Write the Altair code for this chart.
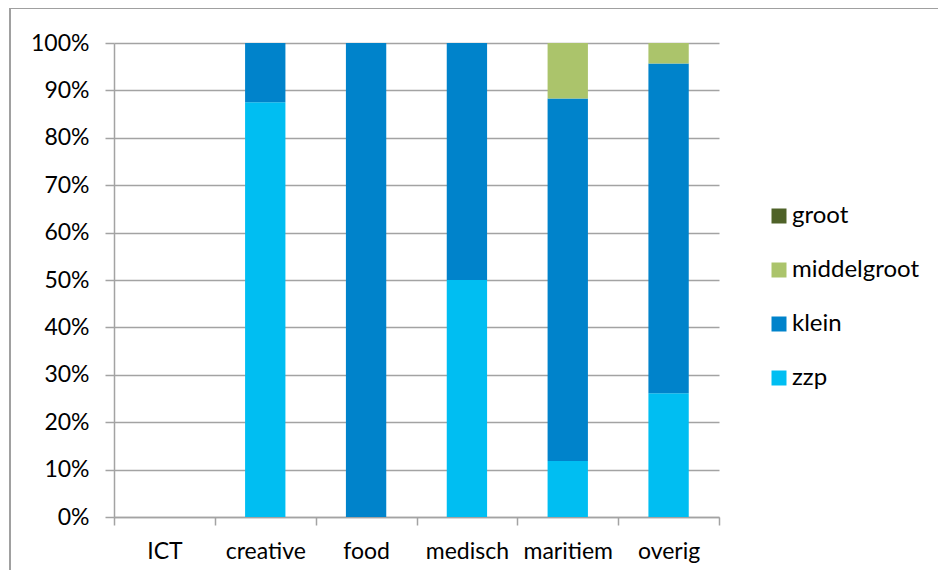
import altair as alt
import pandas as pd

categories = ["ICT", "creative", "food", "medisch", "maritiem", "overig"]
sizes = ["groot", "middelgroot", "klein", "zzp"]
colors = ["#4F6228", "#ABC46B", "#0083CB", "#00BEF2"]

zzp = [0.0, 0.875, 0.0, 0.50, 0.118, 0.261]
klein = [0.0, 0.125, 1.0, 0.50, 0.765, 0.696]
middelgroot = [0.0, 0.0, 0.0, 0.0, 0.117, 0.043]
groot = [0.0, 0.0, 0.0, 0.0, 0.0, 0.0]

series = {"zzp": zzp, "klein": klein, "middelgroot": middelgroot, "groot": groot}
stack_order = {"zzp": 0, "klein": 1, "middelgroot": 2, "groot": 3}

rows = []
for s, vals in series.items():
    for c, v in zip(categories, vals):
        rows.append({"cat": c, "size": s, "value": v, "ord": stack_order[s]})
df = pd.DataFrame(rows)

FONT = "Lato"
GRID = "#A3A3A3"
FS = 23

bars = alt.Chart(df).mark_bar(width={"band": 0.4}).encode(
    x=alt.X("cat:N", sort=categories,
            scale=alt.Scale(paddingInner=0, paddingOuter=0),
            axis=alt.Axis(title=None, labelAngle=0, tickBand="extent",
                          tickSize=8, tickColor=GRID, tickWidth=1.5,
                          domainColor=GRID, domainWidth=1.5,
                          labelFont=FONT, labelFontSize=FS, labelColor="#000000",
                          labelPadding=15, grid=False)),
    y=alt.Y("value:Q", stack="zero",
            scale=alt.Scale(domain=[0, 1]),
            axis=alt.Axis(title=None, format=".0%", values=[i / 10 for i in range(11)],
                          tickSize=9, tickColor=GRID, tickWidth=1.5,
                          domainColor=GRID, domainWidth=1.5,
                          gridColor=GRID, gridWidth=1.5, grid=True,
                          labelFont=FONT, labelFontSize=FS, labelColor="#000000",
                          labelPadding=16)),
    color=alt.Color("size:N", scale=alt.Scale(domain=sizes, range=colors),
                    legend=alt.Legend(title=None, orient="none", legendX=653, legendY=161,
                                      symbolType="square", symbolSize=225,
                                      symbolStrokeWidth=0,
                                      labelFont=FONT, labelFontSize=24, labelColor="#000000",
                                      rowPadding=30, labelOffset=1)),
    order=alt.Order("ord:Q"),
)

frame = alt.Chart(alt.Data(values=[{}])).mark_rect(
    fill=None, stroke="#A0A0A0", strokeWidth=2
).encode(
    x=alt.value(-104), x2=alt.value(845), y=alt.value(-35), y2=alt.value(560)
)

chart = alt.layer(frame, bars).properties(
    width=605, height=474,
    padding={"left": 106, "top": 35, "right": 219, "bottom": 53},
    autosize=alt.AutoSizeParams(type="none"),
).configure_view(stroke=None)

chart.save("out.html", embed_options={"renderer": "svg", "actions": False})
